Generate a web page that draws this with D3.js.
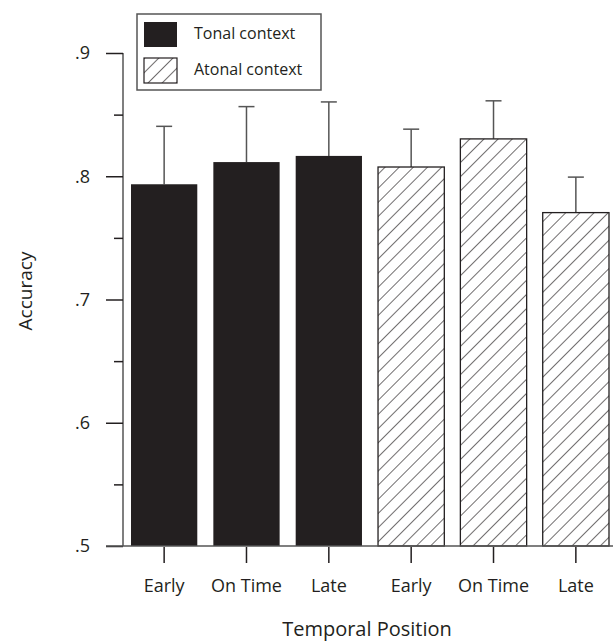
<!DOCTYPE html>
<html>
<head>
<meta charset="utf-8">
<script src="https://cdn.jsdelivr.net/npm/d3@7"></script>
<style>
  body { margin: 0; background: #fff; }
  text { font-family: "Open Sans", "Noto Sans", sans-serif; fill: #231f20; }
</style>
</head>
<body>
<div id="chart"></div>
<script>
var w = 613, h = 643;

// data
var positions = ['Early', 'On Time', 'Late', 'Early', 'On Time', 'Late'];
var contexts = ['tonal', 'tonal', 'tonal', 'atonal', 'atonal', 'atonal'];
var means = [0.7935, 0.8115, 0.8165, 0.8075, 0.8303, 0.7705];
var errTops = [0.8405, 0.8565, 0.8603, 0.8382, 0.8612, 0.7993];
var majorTicks = [0.5, 0.6, 0.7, 0.8, 0.9];
var minorTicks = [0.55, 0.65, 0.75, 0.85];
var legendItems = [{key: 'tonal', label: 'Tonal context'}, {key: 'atonal', label: 'Atonal context'}];

var dataset = positions.map(function(p, i) {
  return {i: i, pos: p, ctx: contexts[i], mean: means[i], err: errTops[i]};
});

var axisX = 123;
var x = d3.scaleBand()
  .domain(d3.range(dataset.length))
  .range([131, 609])
  .paddingInner(0.195)
  .paddingOuter(0);

var y = d3.scaleLinear()
  .domain([0.5, 0.9])
  .range([546, 53]);

var svg = d3.select('#chart').append('svg')
  .attr('width', w)
  .attr('height', h);

var defs = svg.append('defs');
var pat = defs.append('pattern')
  .attr('id', 'hatch')
  .attr('patternUnits', 'userSpaceOnUse')
  .attr('width', 10)
  .attr('height', 10)
  .attr('patternTransform', 'rotate(45)');
pat.append('rect').attr('width', 10).attr('height', 10).attr('fill', '#fff');
pat.append('line')
  .attr('x1', 0).attr('y1', 0).attr('x2', 0).attr('y2', 10)
  .attr('stroke', '#231f20').attr('stroke-width', 1.3);

var fillFor = function(ctx) { return ctx === 'tonal' ? '#231f20' : 'url(#hatch)'; };

// error bars (upper only)
var err = svg.selectAll('.err')
  .data(dataset)
  .enter().append('g')
    .attr('class', 'err')
    .attr('stroke', '#555')
    .attr('stroke-width', 1.5);
err.append('line')
  .attr('x1', function(d) { return x(d.i) + x.bandwidth() / 2; })
  .attr('x2', function(d) { return x(d.i) + x.bandwidth() / 2; })
  .attr('y1', function(d) { return y(d.mean); })
  .attr('y2', function(d) { return y(d.err); });
err.append('line')
  .attr('x1', function(d) { return x(d.i) + x.bandwidth() / 2 - 8; })
  .attr('x2', function(d) { return x(d.i) + x.bandwidth() / 2 + 8; })
  .attr('y1', function(d) { return y(d.err); })
  .attr('y2', function(d) { return y(d.err); });

// bars
svg.selectAll('.bar')
  .data(dataset)
  .enter().append('rect')
    .attr('class', 'bar')
    .attr('x', function(d) { return x(d.i); })
    .attr('y', function(d) { return y(d.mean); })
    .attr('width', x.bandwidth())
    .attr('height', function(d) { return y(0.5) - y(d.mean); })
    .attr('fill', function(d) { return fillFor(d.ctx); })
    .attr('stroke', function(d) { return d.ctx === 'tonal' ? 'none' : '#231f20'; })
    .attr('stroke-width', 1.3);

// y axis
var yAxisG = svg.append('g')
  .attr('transform', 'translate(' + axisX + ',0)')
  .call(d3.axisLeft(y).tickValues(majorTicks).tickSize(17).tickPadding(16)
    .tickFormat(function(d) { return d3.format('.1f')(d).replace(/^0/, ''); }));
yAxisG.select('.domain').attr('stroke', '#555').attr('stroke-width', 1.5)
  .attr('d', 'M0,' + y(0.9) + 'V' + y(0.5));
yAxisG.selectAll('.tick line').attr('stroke', '#231f20').attr('stroke-width', 1.5);
yAxisG.selectAll('.tick text').style('font-size', '18px').attr('fill', '#231f20');

var minorG = svg.append('g')
  .attr('transform', 'translate(' + axisX + ',0)')
  .call(d3.axisLeft(y).tickValues(minorTicks).tickSize(9).tickFormat(''));
minorG.select('.domain').remove();
minorG.selectAll('.tick line').attr('stroke', '#231f20').attr('stroke-width', 1.5);

// baseline
svg.append('line')
  .attr('x1', 106).attr('x2', 613)
  .attr('y1', y(0.5)).attr('y2', y(0.5))
  .attr('stroke', '#555').attr('stroke-width', 1.5);

// x axis
var xAxisG = svg.append('g')
  .attr('transform', 'translate(0,' + (y(0.5) + 1) + ')')
  .call(d3.axisBottom(x).tickSize(16)
    .tickFormat(function(i) { return positions[i]; }));
xAxisG.select('.domain').remove();
xAxisG.selectAll('.tick line').attr('stroke', '#231f20').attr('stroke-width', 1.5);
xAxisG.selectAll('.tick text')
  .attr('y', 45).attr('dy', 0)
  .style('font-size', '18px').attr('fill', '#231f20');

// axis titles
svg.append('text')
  .attr('transform', 'translate(32,291) rotate(-90)')
  .attr('text-anchor', 'middle')
  .style('font-size', '19px')
  .text('Accuracy');
svg.append('text')
  .attr('x', 367).attr('y', 636)
  .attr('text-anchor', 'middle')
  .style('font-size', '20px')
  .text('Temporal Position');

// legend
var legend = svg.append('g');
legend.append('rect')
  .attr('x', 137).attr('y', 14).attr('width', 184).attr('height', 76)
  .attr('fill', '#fff').attr('stroke', '#555').attr('stroke-width', 1.5);
var li = legend.selectAll('.li')
  .data(legendItems)
  .enter().append('g')
    .attr('class', 'li')
    .attr('transform', function(d, i) { return 'translate(144,' + (22 + i * 36) + ')'; });
li.append('rect')
  .attr('width', 33).attr('height', 25)
  .attr('fill', function(d) { return fillFor(d.key); })
  .attr('stroke', function(d) { return d.key === 'tonal' ? 'none' : '#231f20'; })
  .attr('stroke-width', 1.2);
li.append('text')
  .attr('x', 50).attr('y', 17)
  .style('font-size', '16px')
  .text(function(d) { return d.label; });
</script>
</body>
</html>
